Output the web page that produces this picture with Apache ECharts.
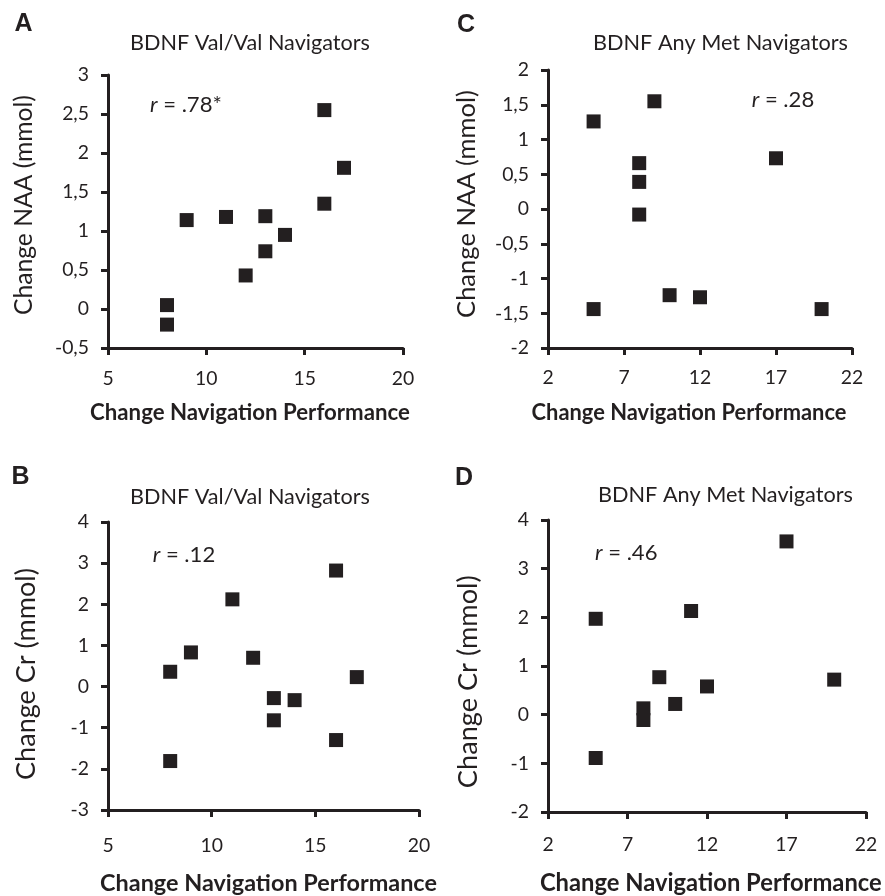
<!DOCTYPE html>
<html><head><meta charset="utf-8">
<script src="https://cdn.jsdelivr.net/npm/echarts@6/dist/echarts.min.js"></script>
<style>html,body{margin:0;padding:0;background:#fff}#c{width:885px;height:896px}</style>
</head><body><div id="c"></div>
<script>
// ---- Data ----
const xA = [8, 8, 9, 11, 12, 13, 13, 14, 16, 16, 17];
const yA = [0.05, -0.2, 1.14, 1.18, 0.43, 1.19, 0.74, 0.95, 2.55, 1.35, 1.81];
const xB = [8, 8, 9, 11, 12, 13, 13, 14, 16, 16, 17];
const yB = [0.36, -1.81, 0.83, 2.12, 0.70, -0.28, -0.82, -0.33, 2.82, -1.30, 0.23];
const xC = [5, 5, 8, 8, 8, 9, 10, 12, 17, 20];
const yC = [1.26, -1.44, 0.66, 0.39, -0.08, 1.55, -1.24, -1.27, 0.73, -1.44];
const xD = [5, 5, 8, 8, 9, 10, 11, 12, 17, 20];
const yD = [1.97, -0.89, 0.13, -0.11, 0.77, 0.22, 2.13, 0.58, 3.56, 0.72];

// ---- Tick labels ----
const xTicksAB = [5, 10, 15, 20];
const xTicksCD = [2, 7, 12, 17, 22];
const yTicksA = [-0.5, 0, 0.5, 1, 1.5, 2, 2.5, 3];
const yTicksB = [-3, -2, -1, 0, 1, 2, 3, 4];
const yTicksC = [-2, -1.5, -1, -0.5, 0, 0.5, 1, 1.5, 2];
const yTicksD = [-2, -1, 0, 1, 2, 3, 4];

// ---- Texts ----
const panelLetters = ['A', 'B', 'C', 'D'];
const panelTitles = ['BDNF Val/Val Navigators', 'BDNF Val/Val Navigators', 'BDNF Any Met Navigators', 'BDNF Any Met Navigators'];
const xTitle = 'Change Navigation Performance';
const yTitles = ['Change NAA (mmol)', 'Change Cr (mmol)', 'Change NAA (mmol)', 'Change Cr (mmol)'];
const rValues = [' = .78*', ' = .12', ' = .28', ' = .46'];

const INK = '#231f20';
const FAM = 'Lato, "Open Sans", sans-serif';
const ctx = document.createElement('canvas').getContext('2d');
function fit(text, w, weight, style) {
  ctx.font = (style || 'normal') + ' ' + weight + ' 100px ' + FAM;
  return 100 * w / ctx.measureText(text).width;
}

const tickFs = fit('20', 22.5, 'normal');
const rFs = fit('r = .12', 63, 'normal');

const grids = [
  {left: 108, top: 75, width: 295, height: 273},
  {left: 108, top: 522, width: 311, height: 288},
  {left: 548, top: 70, width: 304, height: 278},
  {left: 548, top: 520, width: 318, height: 292}
];
const xTickSets = [xTicksAB, xTicksAB, xTicksCD, xTicksCD];
const yTickSets = [yTicksA, yTicksB, yTicksC, yTicksD];
const xMargins = [21, 26, 20.5, 23];
const dataX = [xA, xB, xC, xD];
const dataY = [yA, yB, yC, yD];

const fmt = v => String(Math.round(v * 100) / 100).replace('.', ',');
const axisCommon = {
  axisLine: {show: true, onZero: false, lineStyle: {color: INK, width: 3}},
  axisTick: {show: true, inside: false, length: 7, lineStyle: {color: INK, width: 3}},
  splitLine: {show: false}
};

const xAxis = xTickSets.map((t, i) => Object.assign({}, axisCommon, {
  type: 'value', gridIndex: i, min: t[0], max: t[t.length - 1],
  axisTick: Object.assign({}, axisCommon.axisTick, {customValues: t}),
  axisLabel: {customValues: t, color: INK, fontFamily: FAM, fontSize: tickFs, margin: xMargins[i], formatter: fmt}
}));
const yAxis = yTickSets.map((t, i) => Object.assign({}, axisCommon, {
  type: 'value', gridIndex: i, min: t[0], max: t[t.length - 1],
  axisTick: Object.assign({}, axisCommon.axisTick, {customValues: t}),
  axisLabel: {customValues: t, color: INK, fontFamily: FAM, fontSize: tickFs, margin: 19, formatter: fmt}
}));

const series = dataX.map((xs, i) => ({
  type: 'scatter', xAxisIndex: i, yAxisIndex: i,
  symbol: 'rect', symbolSize: 14,
  itemStyle: {color: INK, opacity: 1},
  data: xs.map((x, j) => [x, dataY[i][j]]),
  z: 5
}));

// text placement (layout)
const letterPos = [[23.5, 24], [20.5, 477], [466, 25], [464, 478]];
const titlePos = [[250, 43, 240], [250, 496.7, 240], [720.5, 43.3, 255], [725.5, 495, 255]];
const xTitlePos = [[250, 413, 320], [268.5, 883, 337], [689, 413, 315], [710.8, 883, 342]];
const yTitlePos = [[24, 205, 220], [26, 674, 212], [466.7, 204, 228], [468, 681.7, 213]];
const rPos = [[150, 105], [152.7, 555], [751.7, 100], [595, 552.7]];

const graphic = [];
panelLetters.forEach((L, i) => {
  graphic.push({type: 'text', x: letterPos[i][0], y: letterPos[i][1], style: {
    text: L, fill: INK, font: 'bold 25px "Liberation Sans", Arial, sans-serif', textAlign: 'center', textVerticalAlign: 'middle'}});
  graphic.push({type: 'text', x: titlePos[i][0], y: titlePos[i][1], style: {
    text: panelTitles[i], fill: INK, fontFamily: FAM, fontSize: fit(panelTitles[i], titlePos[i][2], 'normal'),
    textAlign: 'center', textVerticalAlign: 'middle'}});
  graphic.push({type: 'text', x: xTitlePos[i][0], y: xTitlePos[i][1], style: {
    text: xTitle, fill: INK, fontFamily: FAM, fontWeight: 'bold', fontSize: fit(xTitle, xTitlePos[i][2], 'bold'),
    textAlign: 'center', textVerticalAlign: 'middle'}});
  graphic.push({type: 'text', x: yTitlePos[i][0], y: yTitlePos[i][1], rotation: Math.PI / 2, style: {
    text: yTitles[i], fill: INK, fontFamily: FAM, fontSize: fit(yTitles[i], yTitlePos[i][2], 'normal'),
    textAlign: 'center', textVerticalAlign: 'middle'}});
  graphic.push({type: 'text', x: rPos[i][0], y: rPos[i][1], style: {
    text: '{i|r}{n|' + rValues[i] + '}', fill: INK, textAlign: 'left', textVerticalAlign: 'middle',
    rich: {i: {fontFamily: FAM, fontStyle: 'italic', fontSize: rFs, fill: INK}, n: {fontFamily: FAM, fontSize: rFs, fill: INK}}}});
});

const chart = echarts.init(document.getElementById('c'), null, {renderer: 'canvas'});
chart.setOption({
  animation: false,
  backgroundColor: '#fff',
  grid: grids.map(g => Object.assign({containLabel: false}, g)),
  xAxis, yAxis, series, graphic
});
</script></body></html>
